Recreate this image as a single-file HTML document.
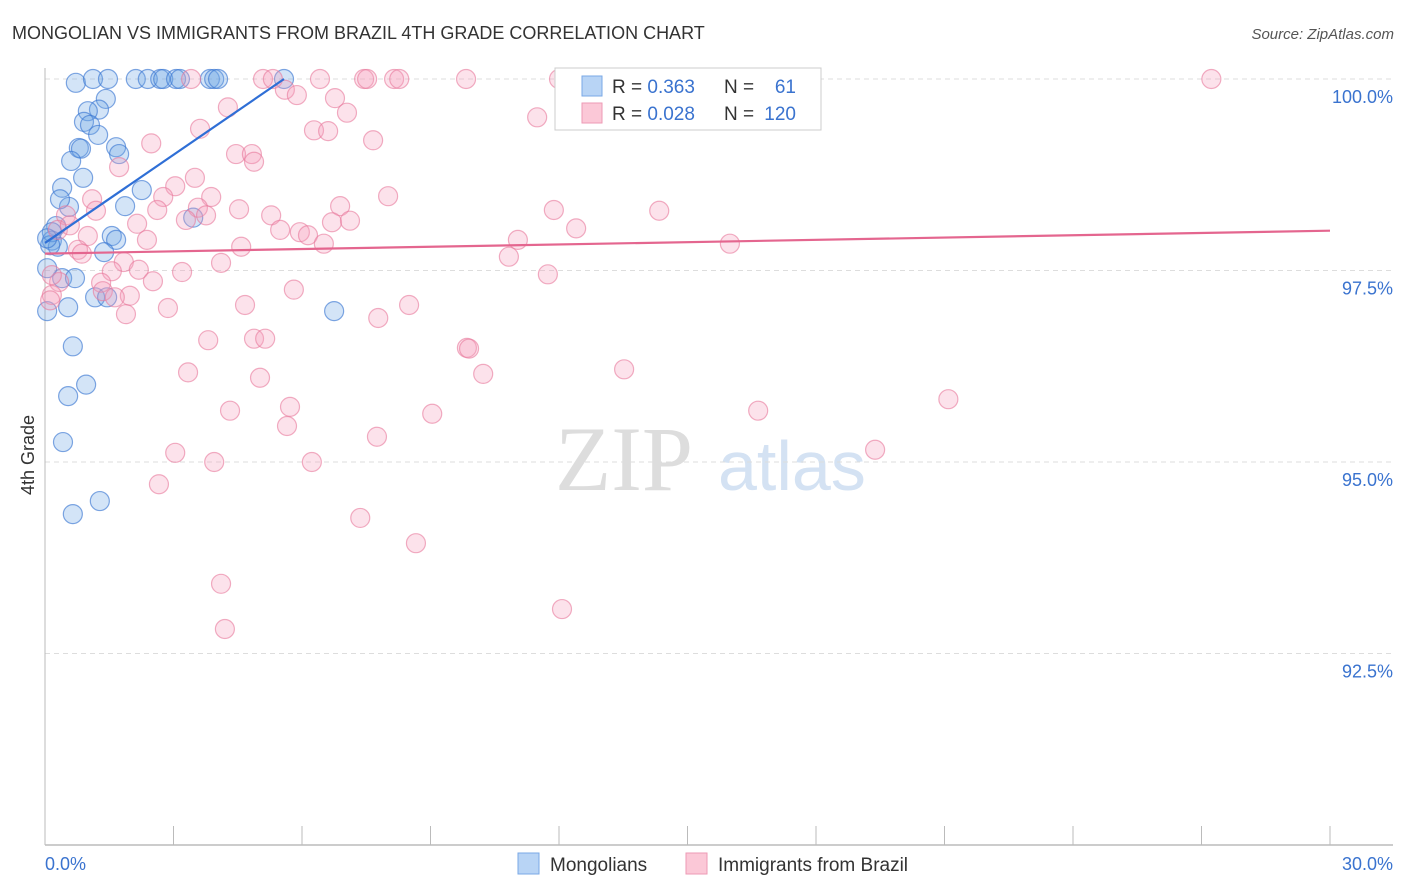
<!DOCTYPE html>
<html><head><meta charset="utf-8"><style>
body{margin:0;background:#fff;font-family:"Liberation Sans",sans-serif;}
svg{display:block}
</style></head><body>
<svg id="chart" width="1406" height="892" xmlns="http://www.w3.org/2000/svg">
<text x="12" y="39" font-size="18" fill="#333">MONGOLIAN VS IMMIGRANTS FROM BRAZIL 4TH GRADE CORRELATION CHART</text>
<text x="1394" y="39" font-size="15" fill="#555" text-anchor="end" font-style="italic">Source: ZipAtlas.com</text>
<g>
<text x="555" y="490" font-size="92" fill="#ddd" font-family="Liberation Serif,serif">ZIP</text>
<text x="718" y="490" font-size="70" fill="#d4e2f3">atlas</text>
</g>
<g id="grid"></g>
<g id="axes"></g>
<g id="blue"></g>
<g id="pink"></g>
<g id="trends"></g>
<text transform="translate(34,455) rotate(-90)" font-size="18" fill="#333" text-anchor="middle">4th Grade</text>
<g>
<rect x="555" y="68" width="266" height="62" fill="#fff" stroke="#ccc"/>
<rect x="582" y="76" width="20" height="20" fill="#b8d4f5" stroke="#7aa8e6"/>
<rect x="582" y="103" width="20" height="20" fill="#fbc8d7" stroke="#ee9ab4"/>
<text x="612" y="93" font-size="19" fill="#333">R = <tspan fill="#3a73cf">0.363</tspan></text>
<text x="724" y="93" font-size="19" fill="#333">N = </text><text x="796" y="93" font-size="19" fill="#3a73cf" text-anchor="end">61</text>
<text x="612" y="120" font-size="19" fill="#333">R = <tspan fill="#3a73cf">0.028</tspan></text>
<text x="724" y="120" font-size="19" fill="#333">N = </text><text x="796" y="120" font-size="19" fill="#3a73cf" text-anchor="end">120</text>
</g>
<g>
<rect x="518" y="853" width="21" height="21" fill="#b8d4f5" stroke="#7aa8e6"/>
<text x="550" y="871" font-size="19" fill="#333">Mongolians</text>
<rect x="686" y="853" width="21" height="21" fill="#fbc8d7" stroke="#ee9ab4"/>
<text x="718" y="871" font-size="19" fill="#333">Immigrants from Brazil</text>
</g>
</svg>
<script>
const yTicks=[100,97.5,95,92.5];
const yTickLabels=["100.0%","97.5%","95.0%","92.5%"];
const xTickLabels=["0.0%","30.0%"];
const blueX=[0.72,1.12,1.47,2.12,2.40,2.69,2.76,3.06,3.15,3.85,3.95,4.04,5.58,1.42,1.26,1.00,0.91,1.05,1.24,0.79,0.84,1.66,1.73,0.61,0.89,0.40,2.26,0.56,0.35,0.26,1.87,3.46,1.56,1.66,0.16,0.30,1.38,0.40,0.70,1.17,1.45,0.54,0.05,6.75,0.65,0.96,0.54,0.42,1.28,0.65,0.16,0.12,0.05,0.05];
const blueY=[99.95,100,100,100,100,100,100,100,100,100,100,100,100,99.74,99.60,99.58,99.44,99.40,99.27,99.10,99.09,99.11,99.02,98.93,98.71,98.58,98.55,98.33,98.43,98.08,98.34,98.19,97.95,97.90,97.89,97.81,97.74,97.40,97.40,97.15,97.15,97.02,96.97,96.97,96.51,96.01,95.86,95.26,94.49,94.32,98.00,97.83,97.92,97.53];
const pinkX=[3.41,5.09,5.32,6.42,7.45,7.52,8.15,8.27,9.83,12.0,13.92,16.25,27.23,5.60,5.88,6.77,7.05,4.27,11.49,3.62,6.28,6.61,2.48,7.66,4.46,4.83,4.88,1.73,3.50,3.04,2.76,3.88,1.10,8.01,6.89,11.88,14.34,4.53,3.57,5.28,3.76,3.29,2.62,2.15,1.19,0.49,6.70,7.12,5.95,5.49,12.40,6.14,2.38,1.00,11.04,15.99,6.51,4.58,0.77,0.86,10.83,4.11,1.84,2.19,3.20,1.56,11.74,2.52,0.33,1.31,5.81,1.35,1.98,1.63,0.16,4.67,8.50,2.87,1.89,7.78,4.88,5.14,3.81,9.85,9.90,13.52,10.23,3.34,5.02,21.09,5.72,4.32,9.04,16.65,5.65,7.75,19.38,3.04,3.95,6.23,2.66,7.36,8.66,4.11,12.07,4.20,0.16,0.12,0.30,0.58];
const pinkY=[100,100,100,100,100,100,100,100,100,100,100,100,100,99.86,99.79,99.75,99.56,99.63,99.50,99.35,99.33,99.32,99.16,99.20,99.02,99.02,98.92,98.85,98.71,98.60,98.46,98.46,98.43,98.47,98.34,98.29,98.28,98.30,98.32,98.22,98.22,98.16,98.29,98.11,98.28,98.22,98.13,98.15,98.00,98.03,98.05,97.96,97.90,97.95,97.90,97.85,97.85,97.81,97.77,97.72,97.68,97.60,97.61,97.51,97.48,97.49,97.45,97.36,97.35,97.34,97.25,97.23,97.17,97.15,97.18,97.05,97.05,97.01,96.93,96.88,96.61,96.61,96.59,96.49,96.48,96.21,96.15,96.17,96.10,95.82,95.72,95.67,95.63,95.67,95.47,95.33,95.16,95.12,95.00,95.00,94.71,94.27,93.94,93.41,93.08,92.82,97.44,97.11,98.03,98.09];
const blueTrendX=[0,5.58];
const blueTrendY=[97.86,100];
const pinkTrendX=[0,30];
const pinkTrendY=[97.72,98.02];
const X0=45,X1=1330,Y100=79,PX_PER_PCT=191.5/2.5;
function sx(v){return X0+(v/30)*(X1-X0);}
function sy(v){return Y100+(100-v)*PX_PER_PCT;}
const NS="http://www.w3.org/2000/svg";
function mk(tag,attrs,parent){const e=document.createElementNS(NS,tag);for(const k in attrs)e.setAttribute(k,attrs[k]);parent.appendChild(e);return e;}
const grid=document.getElementById('grid'),axes=document.getElementById('axes');
yTicks.forEach((t,i)=>{
  const l=mk('line',{x1:45,x2:1393,y1:sy(t),y2:sy(t),stroke:'#ddd','stroke-dasharray':'5,4'},grid);
  
  
  const tx=mk('text',{x:1393,y:sy(t)+24,'font-size':18,fill:'#3a73cf','text-anchor':'end'},axes);
  tx.textContent=yTickLabels[i];
  
  
});
const ax=mk('line',{x1:45,x2:45,y1:68,y2:845,stroke:'#bbb'},axes);


const bx=mk('line',{x1:45,x2:1393,y1:845,y2:845,stroke:'#bbb','stroke-width':1.5},axes);


for(let i=0;i<=10;i++){
  const t=mk('line',{x1:sx(i*3),x2:sx(i*3),y1:826,y2:845,stroke:'#bbb'},axes);
  
  
}
const xl0=mk('text',{x:45,y:870,'font-size':18,fill:'#3a73cf'},axes);xl0.textContent=xTickLabels[0];


const xl1=mk('text',{x:1393,y:870,'font-size':18,fill:'#3a73cf','text-anchor':'end'},axes);xl1.textContent=xTickLabels[1];


const bg=document.getElementById('blue'),pg=document.getElementById('pink');
pinkX.forEach((v,i)=>{
  const c=mk('circle',{cx:sx(v),cy:sy(pinkY[i]),r:9.5,fill:'rgba(246,160,188,0.3)',stroke:'rgba(232,120,155,0.6)','stroke-width':1.2},pg);
  
  
});
blueX.forEach((v,i)=>{
  const c=mk('circle',{cx:sx(v),cy:sy(blueY[i]),r:9.5,fill:'rgba(110,165,230,0.3)',stroke:'rgba(60,120,210,0.65)','stroke-width':1.2},bg);
  
  
});
const tg=document.getElementById('trends');
const bl=mk('line',{x1:sx(blueTrendX[0]),y1:sy(blueTrendY[0]),x2:sx(blueTrendX[1]),y2:sy(blueTrendY[1]),stroke:'#2f6fd6','stroke-width':2.2},tg);


const pl=mk('line',{x1:sx(pinkTrendX[0]),y1:sy(pinkTrendY[0]),x2:sx(pinkTrendX[1]),y2:sy(pinkTrendY[1]),stroke:'#e4668f','stroke-width':2.2},tg);


</script>
</body></html>
